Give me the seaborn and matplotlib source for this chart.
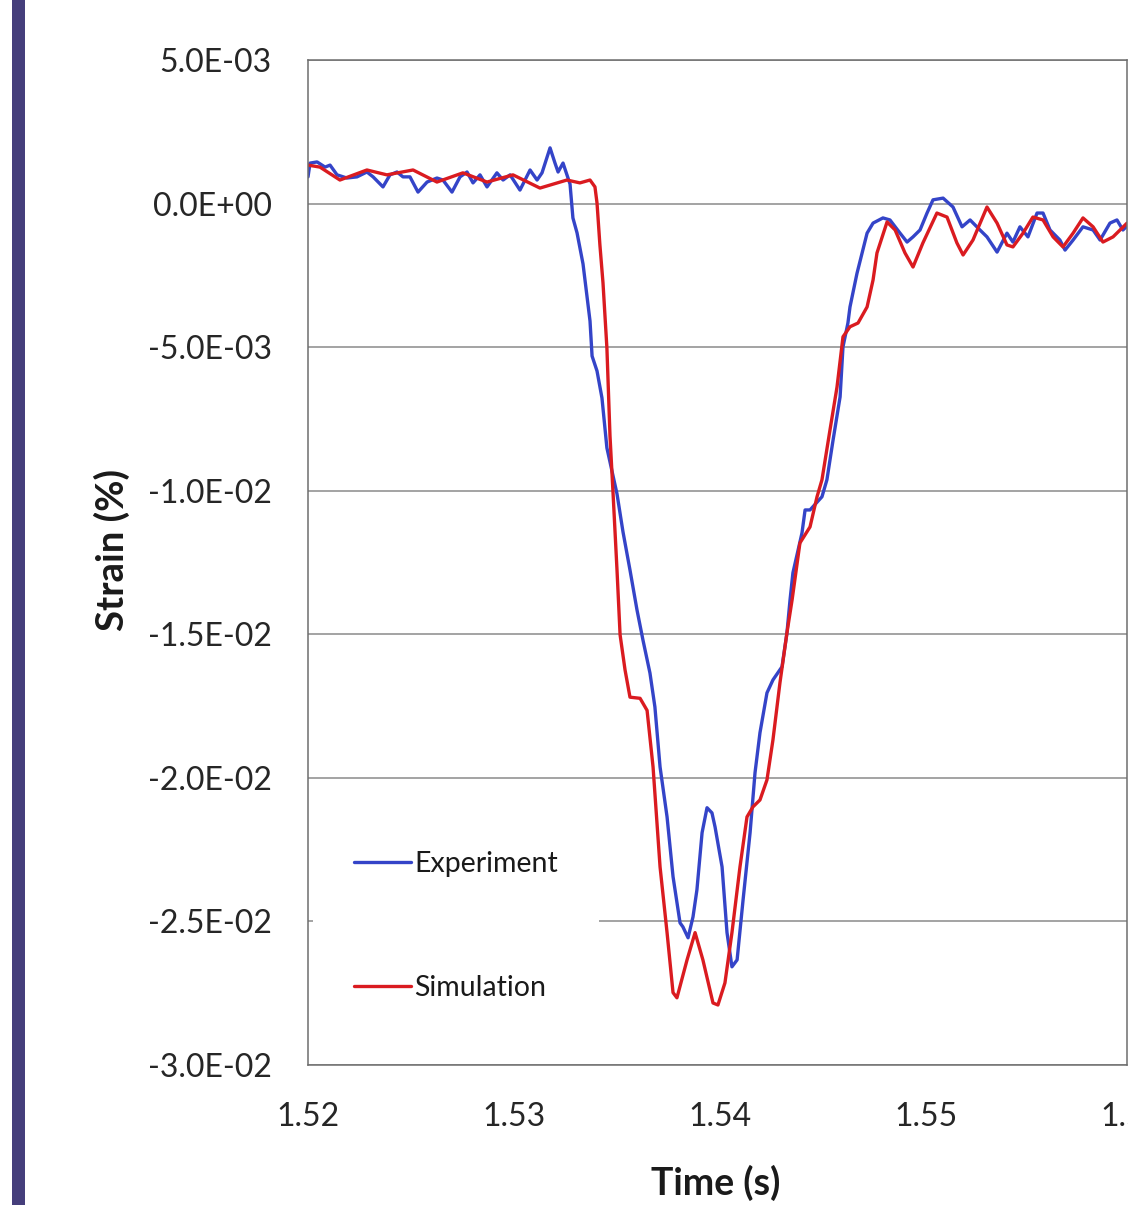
import numpy as np
import pandas as pd
import matplotlib
matplotlib.use("Agg")
import matplotlib.pyplot as plt
import seaborn as sns
from matplotlib.ticker import FuncFormatter
from matplotlib.patches import Rectangle
from matplotlib.lines import Line2D
from matplotlib.transforms import blended_transform_factory, offset_copy

# ---------------- data ----------------
t0 = 1.52  # s
exp_dt_ms = [0.00, 0.10, 0.44, 0.83, 1.07, 1.41, 1.89, 2.38, 2.86, 3.16,
             3.64, 3.98, 4.32, 4.61, 4.95, 5.34, 5.78, 6.26, 6.55, 6.99,
             7.38, 7.72, 8.01, 8.35, 8.69, 9.17, 9.47, 9.81, 10.29, 10.78,
             11.12, 11.36, 11.75, 11.99, 12.14, 12.38, 12.57, 12.72, 12.86, 13.06,
             13.35, 13.69, 13.79, 14.03, 14.27, 14.51, 15.00, 15.29, 15.63, 15.97,
             16.26, 16.60, 16.84, 17.09, 17.43, 17.72, 18.06, 18.20, 18.45, 18.69,
             18.88, 19.13, 19.37, 19.61, 19.76, 20.10, 20.34, 20.58, 20.83, 21.12,
             21.46, 21.70, 21.94, 22.28, 22.57, 23.01, 23.25, 23.40, 23.54, 23.98,
             24.13, 24.37, 24.95, 25.19, 25.49, 25.83, 25.97, 26.21, 26.31, 26.65,
             27.14, 27.43, 27.91, 28.25, 28.74, 29.08, 29.37, 29.71, 30.05, 30.34,
             30.83, 31.31, 31.75, 32.14, 32.62, 32.96, 33.45, 33.93, 34.22, 34.56,
             34.95, 35.39, 35.68, 36.02, 36.50, 36.75, 37.14, 37.62, 38.11, 38.45,
             38.93, 39.27, 39.56, 39.81]
exp_strain_e3 = [0.93, 1.41, 1.45, 1.27, 1.34, 1.00, 0.89, 0.93, 1.10, 0.93,
                 0.58, 1.00, 1.10, 0.93, 0.93, 0.40, 0.75, 0.89, 0.82, 0.40,
                 0.93, 1.10, 0.72, 1.00, 0.58, 1.07, 0.82, 1.00, 0.47, 1.17,
                 0.82, 1.07, 1.94, 1.41, 1.10, 1.41, 1.00, 0.68, -0.50, -1.02,
                 -2.10, -4.09, -5.31, -5.83, -6.77, -8.51, -10.11, -11.43, -12.76, -14.15,
                 -15.20, -16.35, -17.53, -19.62, -21.36, -23.44, -25.05, -25.19, -25.57, -24.84,
                 -23.90, -21.91, -21.04, -21.22, -21.71, -23.10, -25.39, -26.58, -26.34, -24.25,
                 -21.91, -19.82, -18.43, -17.04, -16.59, -16.13, -14.95, -13.80, -12.86, -11.47,
                 -10.67, -10.67, -10.21, -9.62, -8.23, -6.73, -4.99, -4.16, -3.60, -2.43,
                 -1.03, -0.68, -0.50, -0.57, -1.03, -1.34, -1.16, -0.92, -0.33, 0.13,
                 0.19, -0.12, -0.81, -0.57, -0.92, -1.16, -1.69, -1.03, -1.34, -0.81,
                 -1.16, -0.33, -0.33, -0.92, -1.27, -1.62, -1.27, -0.81, -0.92, -1.27,
                 -0.68, -0.57, -0.92, -0.75]

sim_dt_ms = [0.00, 0.58, 1.55, 2.86, 3.83, 5.10, 6.26, 7.52, 8.69, 9.95,
             11.26, 12.57, 13.20, 13.69, 13.93, 14.03, 14.17, 14.32, 14.51, 14.66,
             14.81, 15.00, 15.15, 15.39, 15.63, 16.12, 16.46, 16.75, 17.09, 17.43,
             17.72, 17.91, 18.40, 18.79, 19.17, 19.66, 19.90, 20.24, 20.58, 20.97,
             21.31, 21.60, 21.94, 22.28, 22.57, 22.91, 23.25, 23.50, 23.88, 24.37,
             24.71, 24.95, 25.34, 25.68, 25.97, 26.31, 26.70, 27.14, 27.43, 27.62,
             28.11, 28.50, 28.98, 29.37, 29.85, 30.53, 31.02, 31.50, 31.80, 32.28,
             32.96, 33.45, 33.93, 34.22, 34.71, 35.19, 35.68, 36.17, 36.65, 37.14,
             37.62, 38.11, 38.59, 39.08, 39.76]
sim_strain_e3 = [1.34, 1.27, 0.82, 1.17, 1.00, 1.17, 0.75, 1.07, 0.75, 1.00,
                 0.54, 0.82, 0.72, 0.82, 0.58, 0.02, -1.44, -2.76, -5.03, -8.09,
                 -10.11, -12.76, -15.02, -16.24, -17.19, -17.23, -17.65, -19.62, -23.10, -25.39,
                 -27.48, -27.66, -26.34, -25.39, -26.34, -27.84, -27.91, -27.14, -25.39, -23.10,
                 -21.36, -21.01, -20.77, -20.07, -18.68, -16.69, -14.95, -13.80, -11.82, -11.26,
                 -10.21, -9.62, -7.88, -6.39, -4.64, -4.29, -4.16, -3.60, -2.66, -1.72,
                 -0.64, -0.92, -1.72, -2.21, -1.37, -0.33, -0.47, -1.37, -1.79, -1.27,
                 -0.12, -0.68, -1.44, -1.51, -1.03, -0.47, -0.57, -1.16, -1.51, -1.03,
                 -0.50, -0.81, -1.34, -1.16, -0.68]

series_names = ["Experiment", "Simulation"]
series_colors = ["#3444C8", "#DA1B20"]
y_ticks = [5e-3, 0.0, -5e-3, -1e-2, -1.5e-2, -2e-2, -2.5e-2, -3e-2]
x_ticks = [1.52, 1.53, 1.54, 1.55]
x_cut_tick = 1.56
x_label = "Time (s)"
y_label = "Strain (%)"

df = pd.concat([
    pd.DataFrame({"time": t0 + np.array(exp_dt_ms) / 1000.0,
                  "strain": np.array(exp_strain_e3) * 1e-3,
                  "series": series_names[0]}),
    pd.DataFrame({"time": t0 + np.array(sim_dt_ms) / 1000.0,
                  "strain": np.array(sim_strain_e3) * 1e-3,
                  "series": series_names[1]}),
], ignore_index=True)

# ---------------- figure ----------------
sns.set_theme(style="white")
plt.rcParams['font.family'] = ['Lato', 'DejaVu Sans']

W, H = 1128, 1205
fig = plt.figure(figsize=(W / 100, H / 100), dpi=100)
fig.patch.set_facecolor("white")

left_px, right_px, top_px, bottom_px = 308, 1127, 60, 1065
ax = fig.add_axes([left_px / W, (H - bottom_px) / H,
                   (right_px - left_px) / W, (bottom_px - top_px) / H])

palette = dict(zip(series_names, series_colors))
sns.lineplot(data=df, x="time", y="strain", hue="series", palette=palette,
             sort=False, estimator=None, units="series", linewidth=2.4,
             legend=False, ax=ax)
for ln in ax.get_lines():
    ln.set_solid_joinstyle("round")
    ln.set_solid_capstyle("round")

px_per_s = 20600.0
ax.set_xlim(1.52, 1.52 + (right_px - left_px) / px_per_s)
ax.set_ylim(-3e-2, 5e-3)

tick_fs = 23
x_pad = 27
ax.set_xticks(x_ticks)
ax.set_yticks(y_ticks)
ax.xaxis.set_major_formatter(FuncFormatter(lambda v, p: f"{v:.2f}"))
ax.yaxis.set_major_formatter(
    FuncFormatter(lambda v, p: f"{(0.0 if abs(v) < 1e-12 else v):.1E}"))
ax.tick_params(axis="both", length=0, labelsize=tick_fs, colors="#262626")
ax.tick_params(axis="y", pad=26)
ax.tick_params(axis="x", pad=x_pad)

# tick label at 1.56, cut off by the right edge like in the original
trans = offset_copy(blended_transform_factory(ax.transData, ax.transAxes),
                    fig=fig, y=-x_pad, units="points")
ax.text(x_cut_tick, 0, f"{x_cut_tick:.2f}", transform=trans, clip_on=False,
        ha="center", va="top", fontsize=tick_fs, color="#262626")

ax.yaxis.grid(True, color="#8a8a8a", linewidth=1.1)
ax.xaxis.grid(False)
ax.set_axisbelow(True)
for s in ax.spines.values():
    s.set_visible(True)
    s.set_color("#6e6e6e")
    s.set_linewidth(1.1)

ax.set_xlabel("")
ax.set_ylabel("")
fig.text(716 / W, 1 - 1183 / H, x_label, ha="center", va="center",
         fontsize=27, fontweight="bold", color="#1a1a1a")
fig.text(112 / W, 1 - 550 / H, y_label, ha="center", va="center",
         rotation=90, fontsize=27.5, fontweight="bold", color="#1a1a1a")

handles = [Line2D([0], [0], color=c, lw=2.4) for c in series_colors]
leg = ax.legend(handles, series_names, loc="center left",
                bbox_to_anchor=(0.006, 0.138), borderaxespad=0,
                fontsize=20.5, frameon=True, facecolor="white",
                edgecolor="none", framealpha=1.0, fancybox=False,
                handlelength=2.0, handletextpad=0.1, labelspacing=3.45,
                borderpad=1.45)
for t in leg.get_texts():
    t.set_color("#1a1a1a")

# purple side bar
fig.add_artist(Rectangle((12 / W, 0), 13 / W, 1, transform=fig.transFigure,
                         facecolor="#453E7B", edgecolor="none"))

fig.savefig("out.png", dpi=100)
